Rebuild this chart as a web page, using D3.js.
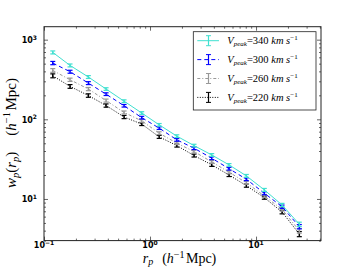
<!DOCTYPE html>
<html>
<head>
<meta charset="utf-8">
<script src="https://cdn.jsdelivr.net/npm/d3@7"></script>
<style>
body { margin: 0; background: #fff; }
</style>
</head>
<body>
<div id="chart"></div>
<script>
// separations r_p (h^-1 Mpc)
var rp = [0.121, 0.176, 0.262, 0.385, 0.569, 0.835, 1.22, 1.79, 2.60, 3.82, 5.56, 8.10, 11.97, 17.6, 25.6]

// w_p(r_p) per Vpeak threshold
var wp340 = [692, 475, 340, 240, 169, 120, 85.3, 61.5, 46.8, 35.7, 26.8, 19.5, 13.0, 8.4, 4.81]
var wp300 = [509, 396, 285, 207, 148, 105, 77.5, 55.2, 43.4, 32.5, 24.0, 17.7, 11.8, 8.0, 4.49]
var wp260 = [411, 314, 240, 172, 122, 95.7, 67.0, 50.2, 39.4, 29.2, 21.7, 16.0, 10.9, 7.4, 3.99]
var wp220 = [352, 259, 199, 149, 107, 87.1, 60.2, 46.8, 35.1, 26.8, 20.0, 14.7, 10.4, 6.86, 3.63]

var err340 = [30, 20, 14, 9, 6.5, 4.5, 3.2, 2.4, 1.8, 1.4, 1.0, 0.8, 0.55, 0.4, 0.3]
var err300 = [24, 17, 12, 8, 5.5, 4, 2.9, 2.1, 1.7, 1.3, 0.95, 0.7, 0.5, 0.38, 0.28]
var err260 = [22, 15, 11, 7.5, 5.2, 3.8, 2.7, 2.0, 1.6, 1.2, 0.9, 0.68, 0.48, 0.36, 0.27]
var err220 = [20, 14, 10, 7, 5, 3.6, 2.6, 2.0, 1.5, 1.15, 0.88, 0.66, 0.48, 0.36, 0.27]

var vpeak = ["340", "300", "260", "220"]
var xMajor = [0.1, 1, 10]
var xExp = ["\u22121", "0", "1"]
var yMajor = [10, 100, 1000]
var yExp = ["1", "2", "3"]

var series = [
  {v: vpeak[0], wp: wp340, err: err340, color: "#40e0d0", dash: null},
  {v: vpeak[1], wp: wp300, err: err300, color: "#0000ff", dash: "4,3"},
  {v: vpeak[2], wp: wp260, err: err260, color: "#999999", dash: "3,2,1,2"},
  {v: vpeak[3], wp: wp220, err: err220, color: "#000000", dash: "1,1.5"}
]

var draw = function() {
  var width = 357, height = 268;
  var left = 44, right = 321, top = 26.7, bottom = 240.6;

  var x = d3.scaleLog().domain([0.1, 41]).range([left, right]);
  var y = d3.scaleLog().domain([3, 1455]).range([bottom, top]);

  var svg = d3.select("#chart").append("svg")
    .attr("width", width)
    .attr("height", height);

  // minor + major ticks, all inward
  var minorX = x.ticks().filter(function(d) { return xMajor.indexOf(d) < 0; });
  var minorY = y.ticks().filter(function(d) { return yMajor.indexOf(d) < 0; });

  function tickAxis(axis, tr, vals, size) {
    var g = svg.append("g").attr("transform", tr)
      .call(axis.tickValues(vals).tickSizeInner(size).tickSizeOuter(0).tickFormat(""));
    g.select(".domain").remove();
    g.selectAll("line").attr("stroke", "#000").attr("stroke-width", 0.6);
  }
  tickAxis(d3.axisBottom(x), "translate(0," + bottom + ")", xMajor, -4);
  tickAxis(d3.axisBottom(x), "translate(0," + bottom + ")", minorX, -2);
  tickAxis(d3.axisTop(x), "translate(0," + top + ")", xMajor, -4);
  tickAxis(d3.axisTop(x), "translate(0," + top + ")", minorX, -2);
  tickAxis(d3.axisLeft(y), "translate(" + left + ",0)", yMajor, -4);
  tickAxis(d3.axisLeft(y), "translate(" + left + ",0)", minorY, -2);
  tickAxis(d3.axisRight(y), "translate(" + right + ",0)", yMajor, -4);
  tickAxis(d3.axisRight(y), "translate(" + right + ",0)", minorY, -2);

  // tick labels: bold 10^n
  xMajor.forEach(function(d, i) {
    var t = svg.append("text")
      .attr("x", x(d)).attr("y", bottom + 7.6)
      .attr("text-anchor", "middle")
      .style("font-family", "DejaVu Sans").style("font-weight", "bold")
      .style("font-size", "8px");
    t.append("tspan").text("10");
    t.append("tspan").attr("dy", -3.5).style("font-size", "6px").text(xExp[i]);
  });
  yMajor.forEach(function(d, i) {
    var t = svg.append("text")
      .attr("x", left - 7).attr("y", y(d) + 3.5)
      .attr("text-anchor", "end")
      .style("font-family", "DejaVu Sans").style("font-weight", "bold")
      .style("font-size", "8px");
    t.append("tspan").text("10");
    t.append("tspan").attr("dy", -3.5).style("font-size", "6px").text(yExp[i]);
  });

  var line = d3.line()
    .x(function(d) { return x(d[0]); })
    .y(function(d) { return y(d[1]); });

  var plot = svg.append("g");

  series.slice().reverse().forEach(function(s) {
    var pts = rp.map(function(r, i) { return [r, s.wp[i], s.err[i]]; });
    plot.append("path")
      .attr("d", line(pts))
      .attr("fill", "none")
      .attr("stroke", s.color)
      .attr("stroke-width", 1)
      .attr("stroke-dasharray", s.dash);
    var eb = plot.append("g").selectAll("g").data(pts).enter().append("g");
    eb.append("line")
      .attr("x1", function(d) { return x(d[0]); })
      .attr("x2", function(d) { return x(d[0]); })
      .attr("y1", function(d) { return y(d[1] - d[2]); })
      .attr("y2", function(d) { return y(d[1] + d[2]); })
      .attr("stroke", s.color).attr("stroke-width", 1.5);
    [-1, 1].forEach(function(sg) {
      eb.append("line")
        .attr("x1", function(d) { return x(d[0]) - 2.5; })
        .attr("x2", function(d) { return x(d[0]) + 2.5; })
        .attr("y1", function(d) { return y(d[1] + sg * d[2]); })
        .attr("y2", function(d) { return y(d[1] + sg * d[2]); })
        .attr("stroke", s.color).attr("stroke-width", 1.2);
    });
  });

  // frame
  svg.append("rect")
    .attr("x", left).attr("y", top)
    .attr("width", right - left).attr("height", bottom - top)
    .attr("fill", "none").attr("stroke", "#222").attr("stroke-width", 1);

  // legend
  var lg = svg.append("g");
  lg.append("rect")
    .attr("x", 193.3).attr("y", 31.7).attr("width", 122.7).attr("height", 78.3)
    .attr("fill", "#fff").attr("stroke", "#222").attr("stroke-width", 0.8);
  series.forEach(function(s, i) {
    var yy = 40.7 + i * 18.9;
    lg.append("line")
      .attr("x1", 197.3).attr("x2", 219).attr("y1", yy).attr("y2", yy)
      .attr("stroke", s.color).attr("stroke-width", 1)
      .attr("stroke-dasharray", s.dash);
    lg.append("line")
      .attr("x1", 208.5).attr("x2", 208.5).attr("y1", yy - 5).attr("y2", yy + 5)
      .attr("stroke", s.color).attr("stroke-width", 1.2);
    [-5, 5].forEach(function(o) {
      lg.append("line")
        .attr("x1", 206).attr("x2", 211).attr("y1", yy + o).attr("y2", yy + o)
        .attr("stroke", s.color).attr("stroke-width", 1);
    });
    var t = lg.append("text")
      .attr("x", 227.3).attr("y", yy + 3.5)
      .style("font-family", "Liberation Serif").style("font-size", "10.5px");
    t.append("tspan").style("font-style", "italic").text("V");
    t.append("tspan").style("font-style", "italic").style("font-size", "7px").attr("dy", 2).text("peak");
    t.append("tspan").attr("dy", -2).text("=" + s.v + " ");
    t.append("tspan").style("font-style", "italic").text("km  s");
    t.append("tspan").style("font-size", "7px").attr("dy", -4).text("\u22121");
  });

  // axis labels
  var xl = svg.append("text")
    .attr("x", 142.7).attr("y", 263.3)
    .style("font-family", "Liberation Serif").style("font-size", "14px");
  xl.append("tspan").style("font-style", "italic").text("r");
  xl.append("tspan").style("font-style", "italic").style("font-size", "10px").attr("dy", 2).text("p");
  xl.append("tspan").attr("dy", -2).attr("dx", 9).text("(");
  xl.append("tspan").style("font-style", "italic").text("h");
  xl.append("tspan").style("font-size", "10px").attr("dy", -5.5).text("\u22121");
  xl.append("tspan").attr("dy", 5.5).attr("dx", 1.5).text("Mpc)");

  var yl = svg.append("text")
    .attr("transform", "translate(16,188) rotate(-90)")
    .style("font-family", "Liberation Serif").style("font-size", "15px");
  yl.append("tspan").style("font-style", "italic").text("w");
  yl.append("tspan").style("font-style", "italic").style("font-size", "10.5px").attr("dy", 3).text("p");
  yl.append("tspan").attr("dy", -3).text("(");
  yl.append("tspan").style("font-style", "italic").text("r");
  yl.append("tspan").style("font-style", "italic").style("font-size", "10.5px").attr("dy", 3).text("p");
  yl.append("tspan").attr("dy", -3).text(")");
  yl.append("tspan").attr("dx", 16).text("(");
  yl.append("tspan").style("font-style", "italic").text("h");
  yl.append("tspan").style("font-size", "10.5px").attr("dy", -6).text("\u22121");
  yl.append("tspan").attr("dy", 6).attr("dx", 1.5).text("Mpc)");
};
draw();
</script>
</body>
</html>
